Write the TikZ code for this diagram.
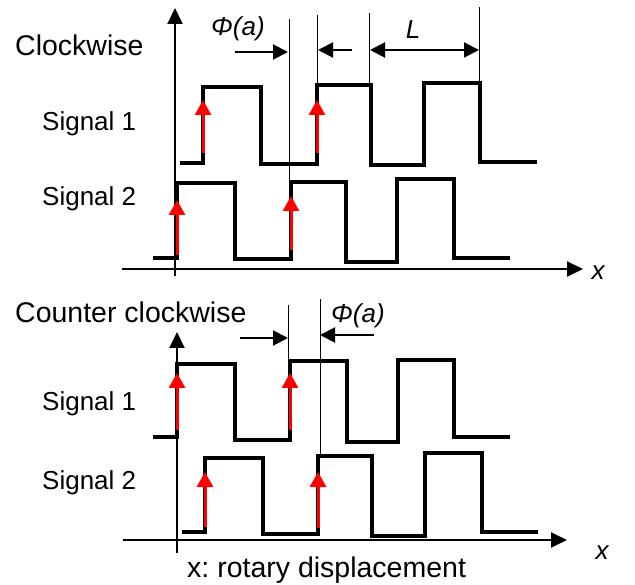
\documentclass[tikz,border=0pt]{standalone}
\usepackage{fontspec}
\setmainfont{Liberation Sans}
\usetikzlibrary{arrows.meta}
\frenchspacing
\begin{document}
\begin{tikzpicture}[x=1pt,y=-1pt,
  sig/.style={line width=4pt,black,line join=miter},
  axisline/.style={line width=2pt,-{Triangle[length=16pt,width=15pt]}},
  thinline/.style={line width=1pt},
  dimline/.style={line width=2pt},
  dimtip/.tip={Triangle[length=15pt,width=15pt]},
  edgearrow/.style={line width=3pt,red,-{Triangle[length=15pt,width=16pt]}},
  head/.style={font=\fontsize{28.5}{32}\selectfont,anchor=base west,inner sep=0pt},
  lab/.style={font=\fontsize{26}{30}\selectfont,anchor=base west,inner sep=0pt},
  ilab/.style={font=\fontsize{26}{30}\selectfont\itshape,inner sep=0pt}]
\useasboundingbox (0,0) rectangle (635,585);
% ---------- Clockwise ----------
\node[head] (cw) at (15,56) {Clockwise};
\node[lab] (s1a) at (42,131) {Signal 1};
\node[lab] (s2a) at (42,206) {Signal 2};
\coordinate (ya0) at (175,276); \coordinate (ya1) at (175,8);
\coordinate (xa0) at (122,269); \coordinate (xa1) at (583,269);
\draw[axisline] (ya0) -- (ya1);
\draw[axisline] (xa0) -- (xa1);
\node[ilab] (xla) at (598,273) {x};
% thin reference lines
\draw[thinline] (289,19) -- (289,182);
\draw[thinline] (317,15) -- (317,85);
\draw[thinline] (369,13) -- (369,85);
\draw[thinline] (479,7) -- (479,83);
% signals
\draw[sig] (180,163) -- (203,163) -- (203,87) -- (261,87) -- (261,164) -- (317,164) -- (317,85) -- (371,85) -- (371,165) -- (424,165) -- (424,83) -- (480,83) -- (480,162) -- (537,162);
\draw[sig] (153,258) -- (177,258) -- (177,183) -- (235,183) -- (235,259) -- (291,259) -- (291,182) -- (346,182) -- (346,262) -- (397,262) -- (397,179) -- (454,179) -- (454,258) -- (510,258);
% red edge arrows
\draw[edgearrow] (203,153) -- (203,100);
\draw[edgearrow] (317,153) -- (317,100);
\draw[edgearrow] (177,255) -- (177,200);
\draw[edgearrow] (291,250) -- (291,196);
% dimension arrows
\draw[dimline,-dimtip] (235,52) -- (288,52);
\draw[dimline,-dimtip] (352,50) -- (318,50);
\draw[dimline,dimtip-dimtip] (370,50) -- (479,50);
\node[ilab] (phia) at (238,29) {Φ(a)};
\node[ilab] (ll) at (413,30) {L};
% ---------- Counter clockwise ----------
\node[head] (ccw) at (15,323) {Counter clockwise};
\node[lab] (s1b) at (42,410) {Signal 1};
\node[lab] (s2b) at (42,489) {Signal 2};
\coordinate (yb0) at (177,553); \coordinate (yb1) at (177,332);
\coordinate (xb0) at (123,540); \coordinate (xb1) at (567,540);
\draw[axisline] (yb0) -- (yb1);
\draw[axisline] (xb0) -- (xb1);
\node[ilab] (xlb) at (602,553) {x};
\draw[thinline] (288,305) -- (288,361);
\draw[thinline] (320,299) -- (320,456);
\draw[sig] (153,437) -- (177,437) -- (177,364) -- (235,364) -- (235,440) -- (290,440) -- (290,361) -- (347,361) -- (347,442) -- (398,442) -- (398,360) -- (454,360) -- (454,437) -- (510,437);
\draw[sig] (182,532) -- (205,532) -- (205,458) -- (263,458) -- (263,534) -- (318,534) -- (318,456) -- (372,456) -- (372,536) -- (425,536) -- (425,453) -- (482,453) -- (482,532) -- (538,532);
\draw[edgearrow] (177,430) -- (177,373);
\draw[edgearrow] (290,430) -- (290,373);
\draw[edgearrow] (205,527) -- (205,472);
\draw[edgearrow] (318,528) -- (318,472);
\draw[dimline,-dimtip] (240,338) -- (288,338);
\draw[dimline,-dimtip] (374,335) -- (320,335);
\node[ilab] (phib) at (358,316) {Φ(a)};
\node[head] (xcap) at (187,577) {x: rotary displacement};
\end{tikzpicture}
\end{document}
